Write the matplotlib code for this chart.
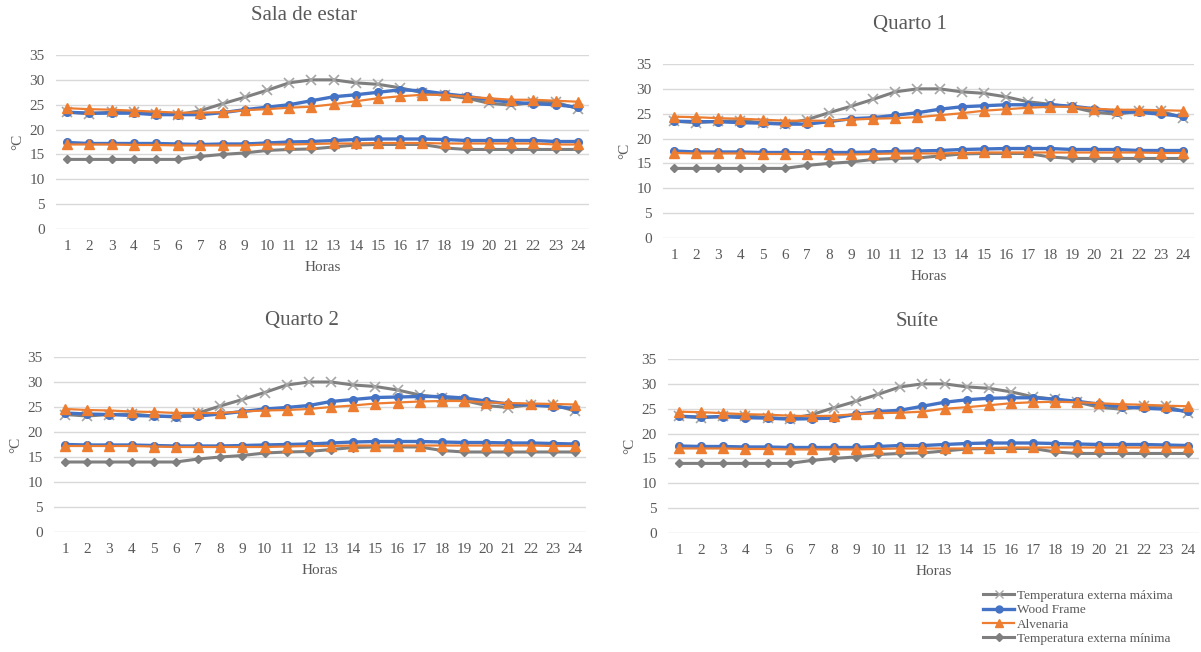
import matplotlib.pyplot as plt
from matplotlib.lines import Line2D

plt.rcParams['font.family'] = ['Liberation Serif', 'DejaVu Serif']

# dados
horas = list(range(1, 25))
ext_max = [23.5, 23.2, 23.5, 23.6, 23.2, 23.0, 23.8, 25.2, 26.5, 27.9, 29.4, 30.0,
           30.0, 29.4, 29.1, 28.4, 27.4, 26.9, 26.3, 25.3, 24.9, 25.5, 25.5, 24.2]
ext_min = [14.0, 14.0, 14.0, 14.0, 14.0, 14.0, 14.6, 15.0, 15.3, 15.8, 16.0, 16.1,
           16.5, 16.9, 17.0, 17.0, 17.0, 16.3, 16.0, 16.0, 16.0, 16.0, 16.0, 16.0]

titulos = ['Sala de estar', 'Quarto 1', 'Quarto 2', 'Suíte']

wood_sup = [
    [23.5, 23.3, 23.3, 23.3, 23.0, 23.0, 23.0, 23.4, 24.0, 24.5, 25.0, 25.8,
     26.6, 27.0, 27.5, 28.0, 27.8, 27.2, 26.7, 26.0, 25.5, 25.2, 25.0, 24.5],
    [23.5, 23.4, 23.4, 23.2, 23.1, 22.9, 22.9, 23.4, 24.0, 24.2, 24.7, 25.2,
     25.9, 26.4, 26.6, 26.8, 26.8, 26.8, 26.5, 26.0, 25.4, 25.3, 24.9, 24.5],
    [23.8, 23.6, 23.5, 23.3, 23.2, 23.1, 23.2, 23.6, 24.1, 24.6, 24.9, 25.3,
     26.1, 26.5, 26.9, 27.0, 27.1, 27.1, 26.8, 26.2, 25.6, 25.4, 25.1, 24.7],
    [23.5, 23.3, 23.4, 23.2, 23.1, 22.9, 23.0, 23.1, 23.9, 24.4, 24.7, 25.5,
     26.3, 26.8, 27.1, 27.2, 27.2, 26.9, 26.5, 25.9, 25.4, 25.1, 24.9, 24.5],
]
alv_sup = [
    [24.3, 24.1, 24.0, 23.8, 23.6, 23.4, 23.4, 23.5, 23.9, 24.1, 24.4, 24.6,
     25.1, 25.7, 26.3, 26.7, 27.0, 27.0, 26.6, 26.3, 26.0, 26.0, 25.8, 25.6],
    [24.4, 24.3, 24.1, 24.0, 23.8, 23.6, 23.6, 23.6, 23.8, 24.0, 24.1, 24.3,
     24.7, 25.1, 25.6, 25.9, 26.2, 26.4, 26.4, 26.0, 25.8, 25.8, 25.7, 25.6],
    [24.6, 24.4, 24.3, 24.1, 24.0, 23.8, 23.8, 23.8, 24.1, 24.3, 24.4, 24.6,
     25.0, 25.3, 25.7, 25.9, 26.1, 26.2, 26.2, 25.9, 25.8, 25.7, 25.6, 25.5],
    [24.4, 24.3, 24.1, 23.9, 23.8, 23.6, 23.5, 23.6, 23.9, 24.1, 24.2, 24.4,
     25.0, 25.3, 25.7, 26.1, 26.3, 26.4, 26.3, 26.1, 25.9, 25.8, 25.6, 25.5],
]
wood_inf = [
    [17.4, 17.2, 17.2, 17.2, 17.2, 17.1, 17.0, 17.1, 17.1, 17.3, 17.5, 17.6,
     17.8, 18.0, 18.1, 18.1, 18.1, 18.0, 17.8, 17.8, 17.8, 17.8, 17.6, 17.6],
    [17.5, 17.3, 17.3, 17.3, 17.2, 17.2, 17.1, 17.2, 17.2, 17.3, 17.4, 17.5,
     17.6, 17.8, 17.9, 18.0, 18.0, 18.0, 17.8, 17.8, 17.8, 17.6, 17.6, 17.6],
    [17.5, 17.4, 17.4, 17.4, 17.3, 17.2, 17.2, 17.2, 17.3, 17.4, 17.5, 17.6,
     17.8, 18.0, 18.1, 18.1, 18.1, 18.0, 17.9, 17.9, 17.8, 17.8, 17.7, 17.6],
    [17.5, 17.4, 17.4, 17.3, 17.3, 17.2, 17.2, 17.2, 17.2, 17.4, 17.6, 17.6,
     17.8, 18.0, 18.1, 18.1, 18.1, 18.0, 17.9, 17.8, 17.8, 17.8, 17.7, 17.6],
]
alv_inf = [
    [17.0, 17.0, 17.0, 16.9, 16.9, 16.8, 16.8, 16.8, 16.8, 17.0, 17.0, 17.1,
     17.2, 17.2, 17.3, 17.3, 17.3, 17.2, 17.2, 17.2, 17.2, 17.2, 17.0, 17.0],
    [17.1, 17.0, 17.0, 17.0, 16.9, 16.9, 16.9, 16.8, 16.8, 16.9, 17.0, 17.0,
     17.0, 17.1, 17.2, 17.2, 17.2, 17.2, 17.2, 17.2, 17.2, 17.2, 17.1, 17.1],
    [17.2, 17.2, 17.2, 17.2, 17.1, 17.0, 17.0, 17.0, 17.0, 17.0, 17.1, 17.2,
     17.2, 17.3, 17.3, 17.3, 17.3, 17.3, 17.3, 17.3, 17.3, 17.3, 17.2, 17.2],
    [17.0, 17.0, 17.0, 16.9, 16.9, 16.8, 16.8, 16.8, 16.8, 16.9, 17.0, 17.0,
     17.0, 17.0, 17.1, 17.2, 17.2, 17.2, 17.2, 17.2, 17.2, 17.2, 17.2, 17.2],
]

# cores
cinza = '#7F7F7F'
azul = '#4472C4'
laranja = '#ED7D31'
texto = '#595959'

W, H = 1201, 652
fig = plt.figure(figsize=(W / 100, H / 100), dpi=100)

# posicoes em pixels: esquerda, direita, topo, base
caixas = [(56, 589, 55, 229), (663, 1194, 64, 238),
          (54, 586, 357, 532), (668, 1199, 359, 533)]
pos_titulo = [(304, 16), (910, 25), (302, 320), (917, 322)]

for i in range(4):
    x0, x1, y0, y1 = caixas[i]
    ax = fig.add_axes([x0 / W, 1 - y1 / H, (x1 - x0) / W, (y1 - y0) / H])
    ax.plot(horas, ext_max, color=cinza, lw=2.2, marker='x', ms=6.5,
            mec='#A6A6A6', mew=1.2, zorder=3)
    ax.plot(horas, wood_sup[i], color=azul, lw=2.4, marker='o', ms=5.5, zorder=4)
    ax.plot(horas, wood_inf[i], color=azul, lw=2.4, marker='o', ms=5.5, zorder=4)
    ax.plot(horas, alv_sup[i], color=laranja, lw=1.6, marker='^', ms=6.5, zorder=5)
    ax.plot(horas, alv_inf[i], color=laranja, lw=1.6, marker='^', ms=6.5, zorder=5)
    ax.plot(horas, ext_min, color=cinza, lw=2.2, marker='D', ms=4.5, zorder=3)

    ax.set_xlim(0.5, 24.5)
    ax.set_ylim(0, 35)
    ax.set_yticks(range(0, 36, 5))
    ax.set_xticks(horas)
    ax.grid(axis='y', color='#D9D9D9', lw=1)
    ax.set_axisbelow(True)
    for s in ax.spines.values():
        s.set_visible(False)
    ax.tick_params(length=0, colors=texto, labelsize=11, pad=8)
    ax.set_xlabel('Horas', color=texto, fontsize=11, labelpad=6)
    ax.set_ylabel('°C', color=texto, fontsize=11, labelpad=4)

    tx, ty = pos_titulo[i]
    fig.text(tx / W, 1 - ty / H, titulos[i], ha='center', va='center',
             fontsize=15, color=texto)

handles = [
    Line2D([], [], color=cinza, lw=2.2, marker='x', ms=6, mec='#A6A6A6'),
    Line2D([], [], color=azul, lw=2.4, marker='o', ms=5),
    Line2D([], [], color=laranja, lw=1.6, marker='^', ms=6),
    Line2D([], [], color=cinza, lw=2.2, marker='D', ms=4),
]
nomes = ['Temperatura externa máxima', 'Wood Frame', 'Alvenaria',
         'Temperatura externa mínima']
fig.legend(handles, nomes, loc='lower right', bbox_to_anchor=(1178 / W, 2 / H),
           frameon=False, fontsize=9.5, handlelength=2.4, handletextpad=0.2,
           labelspacing=0.15, labelcolor=texto, borderaxespad=0)

plt.savefig('out.png', dpi=100)
